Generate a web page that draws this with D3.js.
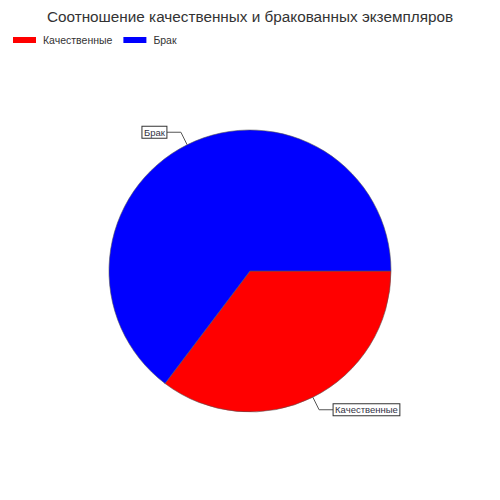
<!DOCTYPE html>
<html><head><meta charset="utf-8">
<script src="https://cdn.jsdelivr.net/npm/d3@7"></script>
<style>body{margin:0;background:#fff}svg{display:block}</style>
</head><body>
<svg id="c" width="500" height="500"></svg>
<script>
const title = "Соотношение качественных и бракованных экземпляров";
const categories = ["Качественные", "Брак"];
const values = [6, 11];
const colors = ["#ff0000", "#0000ff"];

const svg = d3.select("#c");
const font = "Liberation Sans, Arial, sans-serif";

svg.append("text").attr("x", 250).attr("y", 22).attr("text-anchor", "middle")
  .attr("font-family", font).attr("font-size", 15.3).attr("fill", "#333").text(title);

// legend
const leg = svg.append("g");
let lx = 13;
categories.forEach((c, i) => {
  leg.append("rect").attr("x", lx).attr("y", 37).attr("width", 23).attr("height", 6).attr("fill", colors[i]);
  const t = leg.append("text").attr("x", lx + 30).attr("y", 44).attr("font-family", font)
    .attr("font-size", 10.5).attr("fill", "#333").text(c);
  lx += 30 + t.node().getComputedTextLength() + 11;
});

const cx = 250, cy = 271, r = 141;
const g = svg.append("g").attr("transform", `translate(${cx},${cy})`);
const pie = d3.pie().sort(null).startAngle(Math.PI / 2).endAngle(Math.PI / 2 + 2 * Math.PI);
const arcs = pie(values);
const arc = d3.arc().innerRadius(0).outerRadius(r);
g.selectAll("path").data(arcs).join("path").attr("d", arc)
  .attr("fill", (d, i) => colors[i]).attr("stroke", "#555").attr("stroke-width", 0.6);

// labels
arcs.forEach((d, i) => {
  const a = (d.startAngle + d.endAngle) / 2;
  const p1 = [Math.sin(a) * r, -Math.cos(a) * r];
  const p2 = [Math.sin(a) * (r + 14), -Math.cos(a) * (r + 14)];
  const right = Math.sin(a) > 0;
  const p3 = [p2[0] + (right ? 14 : -14), p2[1]];
  g.append("polyline").attr("points", [p1, p2, p3].map(p => p.join(",")).join(" "))
    .attr("fill", "none").attr("stroke", "#555").attr("stroke-width", 1);
  const t = g.append("text").attr("font-family", font).attr("font-size", 9.5).attr("fill", "#334")
    .attr("y", p3[1] + 3.5).text(categories[i]);
  const w = t.node().getComputedTextLength();
  const tx = right ? p3[0] + 2 : p3[0] - 2 - w;
  t.attr("x", tx);
  g.insert("rect", "text:last-of-type").attr("x", tx - 2).attr("y", p3[1] - 6).attr("width", w + 4).attr("height", 12)
    .attr("fill", "#fff").attr("stroke", "#333").attr("stroke-width", 1);
  t.raise();
});
</script>
</body></html>
